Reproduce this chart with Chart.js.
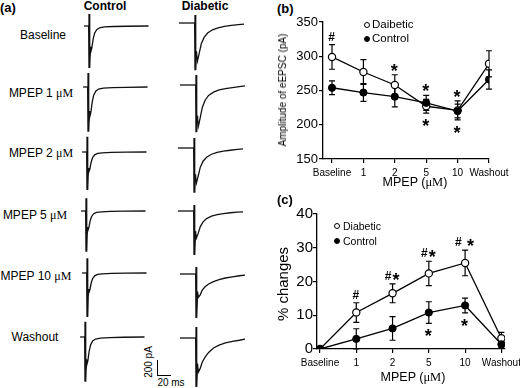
<!DOCTYPE html>
<html>
<head>
<meta charset="utf-8">
<script src="https://cdn.jsdelivr.net/npm/chart.js@4.4.1/dist/chart.umd.min.js"></script>
<style>
  body { margin: 0; width: 520px; height: 388px; background: #fff; position: relative; overflow: hidden;
         font-family: "Liberation Sans", Arial, sans-serif; color: #000; }
  canvas { position: absolute; }
  .t { position: absolute; white-space: nowrap; line-height: 1; transform: translate(-50%, -50%); }
  .tl { position: absolute; white-space: nowrap; line-height: 1; transform: translateY(-50%); }
  .rot { transform: translate(-50%, -50%) rotate(-90deg); }
  .mu { font-family: "Liberation Serif", "Times New Roman", serif; }
  .dot { position: absolute; width: 6px; height: 6px; box-sizing: border-box; border: 1.2px solid #000; border-radius: 50%; transform: translate(-50%, -50%); }
  .bar { position: absolute; background: #000; }
</style>
</head>
<body>
<!-- panel (a) -->
<div class="tl" style="left:0;top:7px;font-weight:bold;font-size:13px">(a)</div>
<div class="t" style="left:105px;top:6px;font-weight:bold;font-size:12px">Control</div>
<div class="t" style="left:205px;top:6px;font-weight:bold;font-size:12px">Diabetic</div>
<div class="t" style="left:43px;top:35px;font-size:12px">Baseline</div>
<div class="t" style="left:41px;top:93px;font-size:12px">MPEP 1 <span class="mu">μM</span></div>
<div class="t" style="left:41px;top:153px;font-size:12px">MPEP 2 <span class="mu">μM</span></div>
<div class="t" style="left:35px;top:215px;font-size:12px">MPEP 5 <span class="mu">μM</span></div>
<div class="t" style="left:36px;top:276px;font-size:12px">MPEP 10 <span class="mu">μM</span></div>
<div class="t" style="left:35px;top:337px;font-size:12px">Washout</div>
<div class="bar" style="left:157px;top:360px;width:1.3px;height:16px"></div>
<div class="bar" style="left:157px;top:375px;width:14px;height:1.3px"></div>
<div class="t rot" style="left:149px;top:362px;font-size:10px">200 pA</div>
<div class="t" style="left:171px;top:383px;font-size:10px">20 ms</div>

<!-- panel (b) -->
<div class="tl" style="left:277px;top:8px;font-weight:bold;font-size:13px">(b)</div>
<canvas id="ampChart" width="250" height="190" style="left:270px;top:0"></canvas>
<div class="t rot" style="left:283px;top:90px;font-size:10px">Amplitude of eEPSC (pA)</div>
<div class="t" style="left:415px;top:182px;font-size:12.5px">MPEP (<span class="mu">μM</span>)</div>
<div class="dot" style="left:367px;top:25px;background:#fff"></div>
<div class="tl" style="left:372px;top:25px;font-size:11.5px">Daibetic</div>
<div class="dot" style="left:367px;top:39px;background:#000"></div>
<div class="tl" style="left:372px;top:39px;font-size:11.5px">Control</div>

<!-- panel (c) -->
<div class="tl" style="left:277px;top:199px;font-weight:bold;font-size:13px">(c)</div>
<canvas id="pctChart" width="250" height="198" style="left:270px;top:190px"></canvas>
<div class="t rot" style="left:282px;top:284px;font-size:15px">% changes</div>
<div class="t" style="left:413px;top:377px;font-size:12.5px">MPEP (<span class="mu">μM</span>)</div>
<div class="dot" style="left:337px;top:226px;background:#fff"></div>
<div class="tl" style="left:343px;top:226px;font-size:10.5px">Diabetic</div>
<div class="dot" style="left:337px;top:241px;background:#000"></div>
<div class="tl" style="left:343px;top:241px;font-size:10.5px">Control</div>

<script>
// dose categories
const doseLabels = ['Baseline', '1', '2', '5', '10', 'Washout'];
const doseIdx = [0, 1, 2, 3, 4, 5];

// (b) eEPSC amplitude, pA (mean and SEM)
const ampDiabetic = [299, 277, 258, 227, 221, 289];
const ampDiabeticSem = [18, 18, 15, 10, 14, 19];
const ampControl = [254, 247, 241, 232, 220, 266];
const ampControlSem = [10, 13, 15, 11, 10, 14];
const ampMarksAbove = ['#', '', '*', '*', '*', ''];
const ampMarksBelow = ['', '', '', '*', '*', ''];

// (c) % change from baseline
const pctDiabetic = [0, 10.8, 16.5, 22.4, 25.5, 3.2];
const pctDiabeticSem = [0, 2.9, 2.8, 3.6, 3.8, 1.7];
const pctControl = [0, 3.0, 6.1, 10.8, 12.9, 1.4];
const pctControlSem = [0, 3.0, 3.5, 3.2, 2.2, 0.9];
const pctMarksAbove = ['', '#', '#*', '#*', '# *', ''];
const pctMarksBelow = ['', '', '', '*', '*', ''];

// (a) example traces: time (ms, stimulus at 0) and current (pA, baseline 0)
const ctrlTime = [-7, 0, 0.2, 0.8, 1.5, 2.5, 4, 6, 8, 11, 15, 22, 35, 55, 85];
const ctrlBaseline = [0, 0, 150, -525, -260, -325, -275, -160, -90, -45, -22, -12, -6, -3, 0];
const ctrlMpep1 = [0, 0, 175, -560, -300, -375, -320, -190, -105, -52, -26, -15, -8, -4, 0];
const ctrlMpep2 = [0, 0, 190, -475, -200, -250, -215, -125, -70, -35, -18, -10, -5, -2, 0];
const ctrlMpep5 = [0, 0, 160, -510, -200, -250, -210, -120, -68, -34, -17, -10, -5, -2, 0];
const ctrlMpep10 = [0, 0, 185, -550, -200, -250, -212, -125, -70, -35, -18, -10, -5, -2, 0];
const ctrlWashout = [0, 0, 190, -560, -280, -350, -300, -175, -98, -49, -25, -14, -7, -3, 0];

const diabTime = [-23, 0, 0.2, 0.8, 1.8, 3.5, 6, 9, 13, 18, 25, 33, 42, 52, 62, 70];
const diabBaseline = [0, 0, 100, -590, -355, -475, -380, -260, -180, -125, -85, -60, -42, -30, -20, -14];
const diabMpep1 = [0, 0, 125, -590, -385, -512, -410, -280, -190, -130, -90, -62, -45, -32, -20, -12];
const diabMpep2 = [0, 0, 125, -560, -330, -437, -350, -240, -165, -115, -78, -55, -40, -28, -18, -12];
const diabMpep5 = [0, 0, 75, -550, -250, -337, -280, -195, -135, -95, -65, -45, -32, -22, -15, -10];
const diabMpep10 = [0, 0, 88, -550, -220, -290, -260, -200, -160, -125, -95, -70, -50, -35, -22, -14];
const diabWashout = [0, 0, 137, -612, -320, -425, -380, -300, -240, -180, -125, -90, -62, -42, -28, -15];

const FONT = '"Liberation Sans", Arial, sans-serif';
Chart.defaults.font.family = FONT;
Chart.defaults.color = '#000';

// where each trace sits on the page (stimulus x, baseline y)
const traceLayout = [
  { t: ctrlTime, v: ctrlBaseline, ax: 89, by: 26 },
  { t: ctrlTime, v: ctrlMpep1, ax: 88, by: 87 },
  { t: ctrlTime, v: ctrlMpep2, ax: 87, by: 152 },
  { t: ctrlTime, v: ctrlMpep5, ax: 86, by: 211 },
  { t: ctrlTime, v: ctrlMpep10, ax: 87, by: 273 },
  { t: ctrlTime, v: ctrlWashout, ax: 85, by: 337 },
  { t: diabTime, v: diabBaseline, ax: 195, by: 23 },
  { t: diabTime, v: diabMpep1, ax: 196, by: 85 },
  { t: diabTime, v: diabMpep2, ax: 194, by: 148 },
  { t: diabTime, v: diabMpep5, ax: 194, by: 211 },
  { t: diabTime, v: diabMpep10, ax: 196, by: 274 },
  { t: diabTime, v: diabWashout, ax: 196, by: 338 }
];

function drawTrace(tr) {
  const cv = document.createElement('canvas');
  cv.width = 84;
  cv.height = 68;
  cv.style.left = (tr.ax - 18) + 'px';
  cv.style.top = (tr.by - 16) + 'px';
  document.body.appendChild(cv);
  new Chart(cv, {
    type: 'scatter',
    data: {
      datasets: [{
        data: tr.t.map((t, i) => ({ x: t, y: tr.v[i] })),
        showLine: true,
        borderColor: '#111',
        borderWidth: 1.3,
        // stimulus artifact drawn heavier
        segment: { borderWidth: ctx => (ctx.p0DataIndex >= 1 && ctx.p0DataIndex <= 3) ? 2 : 1.3 },
        pointRadius: 0,
        clip: false
      }]
    },
    options: {
      responsive: false,
      animation: false,
      events: [],
      layout: { padding: 0 },
      plugins: { legend: { display: false }, tooltip: { enabled: false } },
      scales: {
        x: { type: 'linear', display: false, min: -18 / 0.7, max: 66 / 0.7 },
        y: { type: 'linear', display: false, min: -650, max: 200 }
      }
    }
  });
}

traceLayout.forEach(drawTrace);

// # and * labels; '*' is drawn larger like in the figure
function drawMark(ctx, str, cx, cy) {
  if (!str) return;
  const parts = [...str].map(ch => {
    const size = ch === '*' ? 18 : 12;
    const font = 'bold ' + size + 'px ' + FONT;
    ctx.font = font;
    return { ch, font, w: ctx.measureText(ch).width + 1, off: ch === '*' ? 10 : 4.2 };
  });
  let x = cx - parts.reduce((s, p) => s + p.w, 0) / 2;
  ctx.textAlign = 'left';
  ctx.textBaseline = 'alphabetic';
  parts.forEach(p => {
    ctx.font = p.font;
    if (p.ch !== ' ') ctx.fillText(p.ch, x, cy + p.off);
    x += p.w;
  });
}

function semPlugin(sets, above, below) {
  return {
    id: 'sem',
    beforeDatasetsDraw(chart) {
      const { ctx, scales: { x, y } } = chart;
      ctx.save();
      ctx.strokeStyle = '#000';
      ctx.lineWidth = 1.2;
      sets.forEach(s => s.v.forEach((v, i) => {
        if (!s.e[i]) return;
        const px = x.getPixelForValue(i);
        const top = y.getPixelForValue(v + s.e[i]);
        const bot = y.getPixelForValue(v - s.e[i]);
        ctx.beginPath();
        ctx.moveTo(px, top); ctx.lineTo(px, bot);
        ctx.moveTo(px - 3, top); ctx.lineTo(px + 3, top);
        ctx.moveTo(px - 3, bot); ctx.lineTo(px + 3, bot);
        ctx.stroke();
      }));
      ctx.restore();
    },
    afterDatasetsDraw(chart) {
      const { ctx, scales: { x, y } } = chart;
      ctx.save();
      ctx.fillStyle = '#000';
      doseIdx.forEach(i => {
        const px = x.getPixelForValue(i);
        const hi = Math.min(...sets.map(s => y.getPixelForValue(s.v[i] + s.e[i])));
        const lo = Math.max(...sets.map(s => y.getPixelForValue(s.v[i] - s.e[i])));
        drawMark(ctx, above[i], px, hi - 8);
        drawMark(ctx, below[i], px, lo + 9);
      });
      ctx.restore();
    }
  };
}

function doseChart(id, diab, diabSem, ctrl, ctrlSem, above, below, c) {
  const axisGrid = { display: true, drawOnChartArea: false, drawTicks: true, tickLength: 4, color: '#000', lineWidth: 1.2 };
  const axisBorder = { display: true, color: '#000', width: 1.3 };
  new Chart(document.getElementById(id), {
    type: 'scatter',
    data: {
      datasets: [
        {
          label: 'Control',
          data: ctrl.map((v, i) => ({ x: i, y: v })),
          showLine: true,
          borderColor: '#000',
          borderWidth: 1.3,
          pointRadius: 3.6,
          pointBackgroundColor: '#000',
          pointBorderColor: '#000',
          pointBorderWidth: 1
        },
        {
          label: 'Diabetic',
          data: diab.map((v, i) => ({ x: i, y: v })),
          showLine: true,
          borderColor: '#000',
          borderWidth: 1.3,
          pointRadius: 3.6,
          pointBackgroundColor: '#fff',
          pointBorderColor: '#000',
          pointBorderWidth: 1.2
        }
      ]
    },
    options: {
      responsive: false,
      animation: false,
      events: [],
      layout: { padding: { top: c.padTop, right: c.padRight, left: 0, bottom: 0 } },
      plugins: { legend: { display: false }, tooltip: { enabled: false } },
      scales: {
        x: {
          type: 'linear',
          min: c.xMin,
          max: c.xMax,
          grid: axisGrid,
          border: axisBorder,
          afterBuildTicks: s => { s.ticks = doseIdx.map(v => ({ value: v })); },
          afterFit: s => { s.height = c.xHeight; s.paddingLeft = 0; s.paddingRight = 0; },
          ticks: { callback: v => doseLabels[v], font: { size: 10 }, padding: 4, maxRotation: 0, autoSkip: false }
        },
        y: {
          type: 'linear',
          min: c.yMin,
          max: c.yMax,
          grid: axisGrid,
          border: axisBorder,
          afterFit: s => { s.width = c.yWidth; s.paddingTop = 0; s.paddingBottom = 0; },
          ticks: { stepSize: c.yStep, font: { size: c.yFont }, padding: c.yPad }
        }
      }
    },
    plugins: [semPlugin([{ v: diab, e: diabSem }, { v: ctrl, e: ctrlSem }], above, below)]
  });
}

doseChart('ampChart', ampDiabetic, ampDiabeticSem, ampControl, ampControlSem, ampMarksAbove, ampMarksBelow,
  { padTop: 22, padRight: 31, xHeight: 31, yWidth: 53, xMin: -0.287, xMax: 5, yMin: 150, yMax: 350, yStep: 50, yFont: 13, yPad: 1 });

doseChart('pctChart', pctDiabetic, pctDiabeticSem, pctControl, pctControlSem, pctMarksAbove, pctMarksBelow,
  { padTop: 24, padRight: 15, xHeight: 39, yWidth: 47, xMin: -0.083, xMax: 5.1, yMin: 0, yMax: 40, yStep: 10, yFont: 15, yPad: 0 });
</script>
</body>
</html>
